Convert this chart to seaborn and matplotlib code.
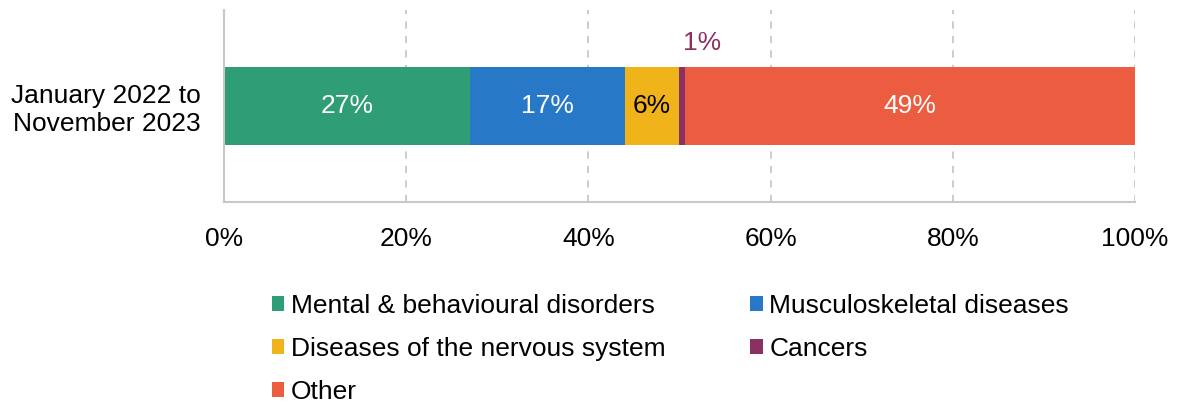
import numpy as np
import pandas as pd
import seaborn as sns
import matplotlib.pyplot as plt
from matplotlib.patches import Patch

# Data
period = "January 2022 to\nNovember 2023"
categories = ["Mental & behavioural disorders", "Musculoskeletal diseases",
              "Diseases of the nervous system", "Cancers", "Other"]
shares = [27.0, 17.0, 5.9, 0.7, 49.4]
colors = ["#2f9e76", "#2878c8", "#f0b41a", "#8b3062", "#ec5c40"]
label_colors = ["white", "white", "black", "#8b3062", "white"]
ticks = [0, 20, 40, 60, 80, 100]

sns.set_style("white")
plt.rcParams['font.family'] = ['Liberation Sans', 'DejaVu Sans']
plt.rcParams['text.color'] = 'black'
plt.rcParams['xtick.color'] = 'black'
plt.rcParams['ytick.color'] = 'black'
fs = 19

fig = plt.figure(figsize=(11.77, 4.05), dpi=100)
ax = fig.add_axes([224 / 1177, 1 - 202 / 405, (1135 - 224) / 1177, 192 / 405])

df = pd.DataFrame({'category': categories, 'share': shares})
df['cum'] = df['share'].cumsum()
df['start'] = df['cum'] - df['share']

# stacked bar: draw cumulative totals, biggest first
for i in reversed(range(len(df))):
    sns.barplot(x=[df['cum'][i]], y=[period], color=colors[i], width=0.406,
                saturation=1, ax=ax, orient='h', linewidth=0)

# value labels
for i, row in df.iterrows():
    mid = row['start'] + row['share'] / 2
    if row['share'] < 2:
        ax.text(mid + 2.2, -0.33, f"{row['share']:.0f}%", ha='center', va='center',
                color=label_colors[i], fontsize=fs)
    else:
        ax.text(mid, 0, f"{row['share']:.0f}%", ha='center', va='center',
                color=label_colors[i], fontsize=fs)

ax.set_xlim(0, 100)
ax.set_ylim(0.5, -0.5)
ax.set_xticks(ticks)
ax.set_xticklabels([f"{t}%" for t in ticks], fontsize=fs)
ax.tick_params(axis='x', length=0, pad=18)
ax.tick_params(axis='y', length=0, pad=17, labelsize=fs)
for lbl in ax.get_yticklabels():
    lbl.set_horizontalalignment('right')
ax.set_xlabel("")
ax.set_ylabel("")

ax.grid(axis='x', color='#c8c8c8', linestyle=(0, (4, 4)), linewidth=1.3)
ax.set_axisbelow(True)
for s in ['top', 'right']:
    ax.spines[s].set_visible(False)
for s in ['left', 'bottom']:
    ax.spines[s].set_color('#c8c8c8')
    ax.spines[s].set_linewidth(1.5)

# legend, filled by column
order = [0, 2, 4, 1, 3]
handles = [Patch(facecolor=colors[i], edgecolor='none') for i in order]
labels = [categories[i] for i in order]
fig.legend(handles, labels, loc='upper left', bbox_to_anchor=(261 / 1177, 1 - 283 / 405),
           ncol=2, frameon=False, fontsize=fs, handlelength=0.48, handleheight=0.48,
           handletextpad=0.25, columnspacing=3.2, labelspacing=0.72, borderaxespad=0)

fig.savefig('out.png', dpi=100)
